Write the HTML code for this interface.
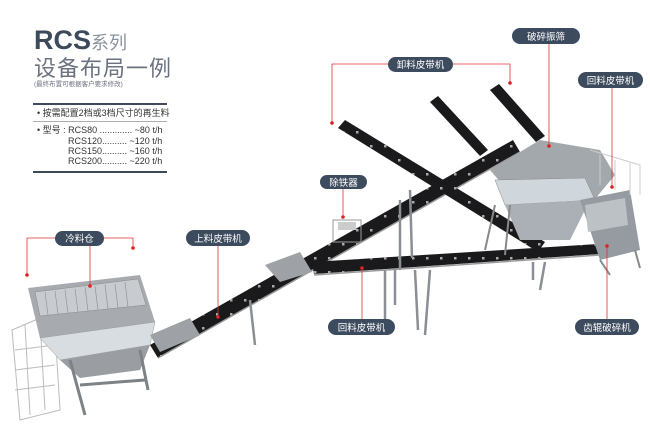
<!DOCTYPE html>
<html><head><meta charset="utf-8"><style>
html,body{margin:0;padding:0;background:#fff}
svg{display:block}
text{font-family:"Liberation Sans","Noto Sans CJK SC",sans-serif}
</style></head><body>
<svg width="650" height="431" viewBox="0 0 650 431" xmlns="http://www.w3.org/2000/svg">
<defs>
<pattern id="rl" width="14" height="14" patternUnits="userSpaceOnUse"><rect x="6" y="5" width="2.5" height="2.5" fill="#aaa"/></pattern>
</defs>
<rect width="650" height="431" fill="#fff"/>
<!-- title panel -->
<text x="34" y="49" font-size="27" font-weight="bold" fill="#3d4a5c">RCS<tspan font-size="18" font-weight="normal" fill="#8a929e">系列</tspan></text>
<text x="34" y="76" font-size="22" fill="#6b7280" letter-spacing="1">设备布局一例</text>
<text x="34" y="86" font-size="6.5" fill="#6b7280">(最终布置可根据客户要求修改)</text>
<rect x="33" y="103" width="134" height="2" fill="#3d4a5c"/>
<text x="37" y="116" font-size="9" fill="#333">• 按需配置2档或3档尺寸的再生料</text>
<rect x="33" y="121" width="134" height="0.8" fill="#999"/>
<text x="37" y="133" font-size="9" fill="#333">• 型号 : RCS80 ............. ~80 t/h</text>
<text x="68" y="144" font-size="9" fill="#333">RCS120.......... ~120 t/h</text>
<text x="68" y="154" font-size="9" fill="#333">RCS150.......... ~160 t/h</text>
<text x="68" y="164" font-size="9" fill="#333">RCS200.......... ~220 t/h</text>
<rect x="33" y="171" width="134" height="2" fill="#3d4a5c"/>

<!-- hopper -->
<g stroke="#bbb" fill="none" stroke-width="1">
<path d="M12 330 L40 318 L55 330 L60 410 L20 420 Z M15 350 L55 345 M15 370 L55 365 M15 390 L55 385 M25 325 L30 415 M40 320 L45 410"/>
</g>
<polygon points="28,288 140,275 155,322 40,338" fill="#a7abb0"/>
<polygon points="35,292 138,279 146,305 40,316" fill="#c8cbcf" stroke="#888" stroke-width="0.5"/>
<g stroke="#8a8f95" stroke-width="0.6">
<line x1="45" y1="292" x2="48" y2="315"/><line x1="55" y1="291" x2="58" y2="314"/><line x1="65" y1="290" x2="68" y2="313"/><line x1="75" y1="289" x2="78" y2="312"/><line x1="85" y1="287" x2="88" y2="311"/><line x1="95" y1="286" x2="98" y2="310"/><line x1="105" y1="285" x2="108" y2="309"/><line x1="115" y1="284" x2="118" y2="308"/><line x1="125" y1="282" x2="128" y2="307"/>
</g>
<polygon points="40,338 155,322 150,345 60,360" fill="#d7dde0" stroke="#999" stroke-width="0.5"/>
<polygon points="60,360 150,345 140,370 80,378" fill="#9a9ea3"/>
<g stroke="#7d8287" stroke-width="3">
<line x1="70" y1="360" x2="85" y2="415"/><line x1="140" y1="350" x2="148" y2="390"/><line x1="80" y1="385" x2="145" y2="380"/>
</g>
<!-- feed conveyor + main incline -->
<polygon points="150,345 513,140 520,152 158,358" fill="#1a1a1c"/>
<polygon points="150,345 513,140 520,152 158,358" fill="url(#rl)"/>
<line x1="158" y1="358" x2="520" y2="152" stroke="#999" stroke-width="1.5"/>
<polygon points="150,335 190,318 200,335 160,352" fill="#9ea2a6"/>
<polygon points="265,265 300,252 312,272 280,282" fill="#9ea2a6"/>
<!-- discharge belts -->
<polygon points="338,128 345,120 545,242 538,252" fill="#1a1a1c"/>
<polygon points="338,128 345,120 545,242 538,252" fill="url(#rl)"/>
<polygon points="430,102 438,96 488,150 480,156" fill="#1a1a1c"/>
<polygon points="490,90 499,84 545,136 536,142" fill="#1a1a1c"/>
<!-- return belt -->
<polygon points="312,262 598,244 600,254 314,274" fill="#1a1a1c"/>
<polygon points="312,262 598,244 600,254 314,274" fill="url(#rl)"/>
<line x1="314" y1="275" x2="600" y2="255" stroke="#999" stroke-width="1.5"/>
<!-- legs -->
<g stroke="#8a8f95" stroke-width="2.5">
<line x1="385" y1="270" x2="385" y2="320"/><line x1="395" y1="270" x2="395" y2="305"/><line x1="415" y1="270" x2="418" y2="330"/><line x1="430" y1="270" x2="425" y2="335"/>
<line x1="533" y1="262" x2="533" y2="280"/><line x1="545" y1="262" x2="540" y2="290"/><line x1="250" y1="300" x2="255" y2="345"/>
<line x1="400" y1="200" x2="400" y2="270"/><line x1="410" y1="190" x2="412" y2="258"/>
</g>
<!-- iron remover -->
<rect x="333" y="220" width="28" height="22" fill="none" stroke="#999"/>
<rect x="338" y="222" width="18" height="8" fill="#ccc"/>
<!-- plant -->
<polygon points="490,170 540,140 600,150 615,175 590,205 520,205" fill="#a3a8ad"/>
<polygon points="495,180 585,178 595,200 505,205" fill="#cfd7dc" stroke="#888" stroke-width="0.5"/>
<polygon points="505,205 590,200 570,240 520,240" fill="#aab0b5"/>
<polygon points="580,200 630,190 640,250 600,260" fill="#959ba1"/>
<polygon points="585,205 625,198 628,225 588,232" fill="#bcc1c6"/>
<path d="M590 150 L640 165 L640 195 M600 155 L600 185 M615 160 L615 190 M630 163 L630 195" stroke="#ccc" fill="none"/>
<g stroke="#888" stroke-width="2"><line x1="495" y1="205" x2="485" y2="250"/><line x1="510" y1="205" x2="505" y2="255"/><line x1="600" y1="260" x2="610" y2="275"/><line x1="635" y1="250" x2="640" y2="268"/></g>

<!-- leaders -->
<g stroke="#d33" stroke-width="0.8" fill="none">
<polyline points="55,238 27,238 27,275"/><polyline points="104,238 133,238 133,248"/>
<line x1="90" y1="246" x2="90" y2="286"/>
<line x1="218" y1="246" x2="218" y2="317"/>
<polyline points="388,64 332,64 332,123"/><polyline points="453,64 510,64 510,83"/>
<line x1="549" y1="44" x2="549" y2="146"/>
<line x1="612" y1="88" x2="612" y2="187"/>
<line x1="343" y1="189" x2="343" y2="217"/>
<line x1="362" y1="319" x2="362" y2="268"/>
<line x1="607" y1="319" x2="607" y2="246"/>
</g>
<g fill="#d22">
<circle cx="27" cy="275" r="1.8"/><circle cx="133" cy="248" r="1.8"/><circle cx="90" cy="286" r="1.8"/><circle cx="218" cy="317" r="1.8"/>
<circle cx="332" cy="123" r="1.8"/><circle cx="510" cy="83" r="1.8"/><circle cx="549" cy="146" r="1.8"/><circle cx="612" cy="187" r="1.8"/>
<circle cx="343" cy="217" r="1.8"/><circle cx="362" cy="268" r="1.8"/><circle cx="607" cy="246" r="1.8"/>
</g>
<!-- labels -->
<g fill="#3d4b5e">
<rect x="55" y="231" width="49" height="15" rx="7.5"/>
<rect x="186" y="230" width="64" height="16" rx="8"/>
<rect x="388" y="57" width="65" height="15" rx="7.5"/>
<rect x="512" y="28" width="68" height="16" rx="8"/>
<rect x="578" y="72" width="65" height="16" rx="8"/>
<rect x="320" y="175" width="47" height="14" rx="7"/>
<rect x="328" y="319" width="67" height="16" rx="8"/>
<rect x="575" y="319" width="64" height="16" rx="8"/>
</g>
<g fill="#fff" font-size="9.5" text-anchor="middle">
<text x="79.5" y="242">冷料仓</text>
<text x="218" y="242">上料皮带机</text>
<text x="420.5" y="68">卸料皮带机</text>
<text x="546" y="40">破碎振筛</text>
<text x="610.5" y="84">回料皮带机</text>
<text x="343.5" y="186">除铁器</text>
<text x="361.5" y="331">回料皮带机</text>
<text x="607" y="331">齿辊破碎机</text>
</g>
</svg>
</body></html>
